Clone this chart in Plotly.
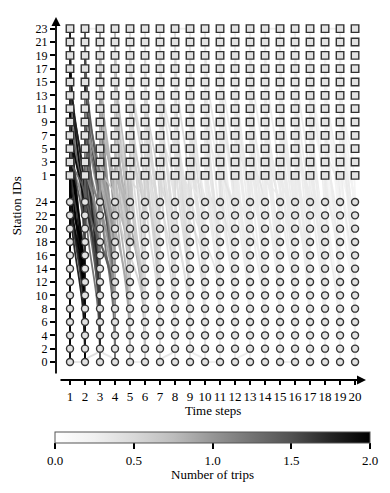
import plotly.graph_objects as go
from plotly.colors import make_colorscale, sample_colorscale

# time steps and station ids
steps = list(range(1, 21))
even_stations = [0, 2, 4, 6, 8, 10, 12, 14, 16, 18, 20, 22, 24]
odd_stations = [1, 3, 5, 7, 9, 11, 13, 15, 17, 19, 21, 23]

# trips: start step, origin station, destination station, step lag, number of trips
trip_step = [
    1, 1, 1, 1, 1, 1, 1, 1, 1, 1, 1, 1, 1, 1, 1, 1, 1, 1, 1, 1, 1, 1, 1, 1,
    2, 2, 2, 2, 2, 2, 2, 2, 2, 2, 2, 2, 2, 2, 2, 2, 2, 2, 2, 2,
    3, 3, 3, 3, 3, 3, 3, 3, 3, 3, 3, 3, 3, 3, 3, 3,
    4, 4, 4, 4, 4, 4, 4, 4, 4, 4, 4, 4,
    5, 5, 5, 5, 5, 5, 5, 5, 6, 6, 6, 6, 6, 6, 6, 6,
    7, 7, 7, 7, 7, 7, 7, 7, 8, 8, 8, 8, 8, 8, 8, 8,
    9, 9, 9, 9, 9, 9, 9, 9, 10, 10, 10, 10, 10, 10, 10, 10,
    11, 11, 11, 11, 11, 11, 11, 11, 12, 12, 12, 12, 12, 12, 12, 12,
    13, 13, 13, 13, 13, 13, 13, 13, 14, 14, 14, 14, 14, 14, 14, 14,
    15, 15, 15, 15, 15, 15, 15, 15, 16, 16, 16, 16, 16, 16, 16, 16,
    17, 17, 17, 17, 17, 17, 17, 17, 18, 18, 18, 18, 18, 18, 18, 18,
    19, 19, 19, 19, 19, 19, 19, 19,
    1, 5, 10, 15, 2, 7, 3, 12, 9, 2, 8, 14, 18,
    1, 1, 1, 1, 1, 1, 1, 1, 1, 1, 1, 1,
    2, 2, 2, 2, 2, 2, 2, 2, 2, 2, 2, 2,
    3, 3, 3, 3, 3, 3, 3, 3, 3, 3,
    4, 4, 4, 4, 4, 4, 4, 4,
    5, 5, 5, 5, 5, 5, 6, 6, 6, 6, 6, 6, 7, 7, 7, 7, 7, 7,
    8, 8, 8, 8, 8, 8, 9, 9, 9, 9, 9, 9, 10, 10, 10, 10, 10, 10,
    11, 11, 11, 11, 11, 11, 12, 12, 12, 12, 12, 12, 13, 13, 13, 13, 13, 13,
    14, 14, 14, 14, 14, 14, 15, 15, 15, 15, 15, 15, 16, 16, 16, 16, 16, 16,
    17, 17, 17, 17, 17, 17, 18, 18, 18, 18, 18, 18, 19, 19, 19, 19, 19, 19,
]
trip_from = [
    23, 21, 21, 19, 19, 17, 17, 15, 15, 13, 13, 11, 11, 9, 9, 7, 7, 5, 5, 3, 3, 1, 1, 23,
    23, 21, 19, 19, 17, 15, 15, 13, 11, 11, 9, 7, 7, 5, 3, 3, 1, 1, 17, 13,
    23, 21, 19, 17, 15, 13, 13, 11, 9, 7, 5, 5, 3, 1, 19, 9,
    23, 21, 17, 15, 13, 11, 9, 7, 5, 3, 1, 19,
    23, 19, 15, 13, 9, 7, 3, 1, 21, 19, 17, 11, 9, 5, 3, 1,
    23, 21, 15, 13, 11, 7, 5, 1, 23, 19, 17, 13, 9, 7, 3, 1,
    21, 19, 15, 11, 9, 5, 3, 1, 23, 21, 17, 13, 11, 7, 5, 3,
    23, 19, 15, 13, 9, 7, 3, 1, 21, 17, 15, 11, 9, 5, 3, 1,
    23, 21, 19, 13, 11, 7, 5, 1, 23, 19, 17, 15, 9, 7, 3, 1,
    21, 17, 15, 13, 11, 5, 3, 1, 23, 19, 15, 11, 9, 7, 5, 3,
    23, 21, 17, 13, 9, 7, 3, 1, 21, 19, 15, 11, 9, 5, 3, 1,
    23, 19, 17, 13, 11, 7, 5, 1,
    0, 0, 0, 0, 0, 0, 2, 0, 2, 23, 23, 23, 23,
    23, 21, 19, 17, 15, 13, 11, 9, 7, 5, 3, 1,
    23, 21, 19, 17, 15, 13, 11, 9, 7, 5, 3, 1,
    23, 21, 17, 15, 13, 11, 9, 7, 3, 1,
    23, 19, 15, 13, 9, 7, 3, 1,
    21, 17, 11, 5, 23, 13, 23, 15, 13, 7, 21, 9, 19, 17, 9, 3, 23, 11,
    21, 15, 11, 5, 23, 9, 23, 17, 13, 7, 19, 1, 19, 15, 9, 1, 23, 11,
    21, 17, 11, 5, 23, 13, 23, 19, 13, 7, 21, 11, 17, 15, 9, 3, 23, 19,
    21, 13, 11, 5, 23, 17, 23, 19, 9, 7, 21, 15, 21, 17, 13, 1, 23, 9,
    19, 15, 11, 5, 23, 13, 23, 17, 13, 7, 21, 1, 21, 15, 9, 3, 23, 17,
]
trip_to = [
    24, 20, 6, 16, 2, 12, 0, 22, 8, 18, 4, 14, 0, 10, 2, 6, 20, 0, 12, 4, 16, 8, 0, 10,
    18, 2, 10, 0, 24, 6, 14, 20, 4, 8, 0, 22, 12, 2, 16, 6, 10, 0, 4, 12,
    14, 6, 2, 20, 10, 0, 16, 24, 4, 8, 12, 18, 0, 22, 8, 14,
    10, 4, 16, 0, 22, 6, 12, 2, 20, 8, 14, 18,
    2, 14, 8, 20, 0, 16, 6, 24, 12, 0, 22, 4, 18, 10, 2, 6,
    6, 16, 2, 10, 24, 0, 14, 20, 20, 8, 0, 14, 4, 22, 12, 2,
    0, 10, 18, 6, 16, 2, 24, 8, 4, 14, 10, 0, 20, 12, 6, 18,
    16, 2, 22, 8, 0, 10, 4, 12, 6, 20, 0, 14, 24, 2, 10, 18,
    12, 0, 8, 4, 16, 22, 18, 2, 0, 14, 6, 10, 20, 2, 8, 24,
    10, 2, 18, 12, 0, 16, 4, 22, 4, 12, 0, 20, 8, 14, 24, 6,
    18, 6, 10, 2, 16, 0, 12, 20, 0, 22, 4, 14, 8, 10, 2, 16,
    8, 2, 12, 20, 0, 6, 18, 4,
    0, 0, 0, 0, 2, 2, 0, 2, 0, 23, 23, 23, 23,
    14, 0, 22, 4, 18, 2, 20, 16, 0, 24, 2, 12,
    0, 16, 6, 8, 2, 24, 12, 20, 4, 18, 22, 8,
    4, 18, 0, 20, 8, 2, 10, 14, 24, 6,
    18, 2, 12, 8, 24, 16, 0, 4,
    22, 10, 18, 0, 12, 4, 8, 16, 0, 20, 2, 14, 12, 4, 22, 8, 18, 2,
    6, 16, 10, 24, 0, 18, 12, 4, 20, 14, 0, 22, 22, 8, 2, 16, 24, 6,
    6, 18, 14, 20, 24, 2, 16, 4, 22, 8, 12, 0, 20, 6, 0, 14, 24, 10,
    4, 18, 12, 16, 22, 0, 14, 6, 24, 8, 0, 20, 16, 2, 18, 10, 22, 0,
    4, 24, 8, 14, 22, 0, 12, 6, 20, 24, 18, 0, 16, 10, 22, 14, 0, 24,
]
trip_lag = [
    0, 1, 0, 1, 1, 0, 1, 1, 0, 1, 1, 0, 1, 1, 0, 1, 1, 0, 1, 1, 0, 1, 1, 1,
    1, 1, 0, 1, 1, 1, 0, 1, 1, 2, 1, 0, 1, 1, 1, 2, 1, 1, 2, 1,
    1, 1, 1, 0, 1, 1, 2, 1, 1, 1, 0, 1, 1, 1, 2, 1,
    1, 1, 1, 2, 1, 1, 0, 1, 1, 2, 1, 1,
    1, 1, 0, 1, 1, 2, 1, 1, 1, 1, 1, 1, 2, 1, 1, 0,
    1, 2, 1, 1, 1, 1, 1, 1, 1, 1, 1, 0, 1, 1, 2, 1,
    1, 1, 1, 1, 1, 1, 1, 2, 1, 1, 1, 1, 2, 1, 1, 1,
    1, 1, 1, 1, 1, 0, 1, 1, 1, 1, 1, 1, 1, 1, 2, 1,
    1, 1, 1, 1, 1, 1, 1, 1, 1, 1, 1, 2, 1, 1, 1, 1,
    1, 1, 1, 1, 1, 1, 1, 1, 1, 1, 1, 1, 1, 1, 1, 1,
    1, 1, 1, 1, 1, 1, 1, 1, 1, 1, 1, 1, 1, 1, 1, 1,
    1, 1, 1, 1, 1, 1, 1, 1,
    1, 1, 1, 1, 1, 1, 1, 1, 1, 1, 1, 1, 1,
    1, 0, 1, 1, 1, 0, 1, 1, 0, 1, 1, 1,
    1, 1, 2, 1, 1, 1, 1, 0, 1, 1, 1, 2,
    1, 1, 1, 1, 1, 2, 1, 1, 1, 1,
    1, 1, 1, 1, 1, 1, 1, 2,
    1, 1, 1, 1, 2, 1, 1, 1, 1, 1, 1, 1, 1, 1, 1, 1, 1, 2,
    1, 1, 1, 1, 1, 1, 1, 1, 1, 1, 1, 1, 1, 1, 1, 1, 1, 1,
    1, 1, 1, 1, 1, 1, 1, 1, 1, 1, 1, 1, 1, 1, 1, 1, 1, 1,
    1, 1, 1, 1, 1, 1, 1, 1, 1, 1, 1, 1, 1, 1, 1, 1, 1, 1,
    1, 1, 1, 1, 1, 1, 1, 1, 1, 1, 1, 1, 1, 1, 1, 1, 1, 1,
]
trip_n = [
    2.0, 2.0, 1.8, 2.0, 1.6, 2.0, 2.0, 1.4, 2.0, 1.8, 2.0, 1.6, 2.0, 2.0, 1.8, 2.0, 1.2, 2.0, 1.6, 2.0, 1.8, 2.0, 2.0, 1.0,
    1.6, 1.8, 1.2, 2.0, 1.4, 1.6, 1.0, 1.8, 1.4, 1.2, 1.8, 1.0, 1.6, 1.4, 1.2, 1.6, 1.8, 1.4, 1.0, 1.2,
    1.2, 1.0, 1.4, 0.8, 1.2, 1.0, 0.8, 1.0, 1.2, 0.8, 1.0, 0.9, 1.4, 0.8, 0.7, 1.0,
    0.9, 0.8, 0.7, 1.0, 0.6, 0.8, 0.7, 0.9, 0.6, 0.7, 0.8, 0.6,
    0.7, 0.6, 0.5, 0.6, 0.7, 0.5, 0.6, 0.5, 0.6, 0.5, 0.6, 0.5, 0.4, 0.6, 0.5, 0.5,
    0.5, 0.4, 0.6, 0.5, 0.4, 0.5, 0.4, 0.5, 0.5, 0.4, 0.5, 0.4, 0.5, 0.4, 0.4, 0.5,
    0.4, 0.5, 0.4, 0.4, 0.3, 0.5, 0.4, 0.4, 0.4, 0.3, 0.4, 0.4, 0.3, 0.4, 0.3, 0.4,
    0.4, 0.3, 0.4, 0.3, 0.4, 0.3, 0.3, 0.4, 0.3, 0.4, 0.3, 0.3, 0.4, 0.3, 0.3, 0.3,
    0.3, 0.4, 0.3, 0.3, 0.3, 0.4, 0.3, 0.3, 0.3, 0.3, 0.3, 0.3, 0.4, 0.3, 0.3, 0.3,
    0.3, 0.3, 0.3, 0.3, 0.3, 0.3, 0.3, 0.3, 0.3, 0.3, 0.3, 0.3, 0.3, 0.3, 0.3, 0.3,
    0.3, 0.2, 0.3, 0.3, 0.2, 0.3, 0.3, 0.2, 0.2, 0.3, 0.2, 0.3, 0.2, 0.3, 0.2, 0.3,
    0.2, 0.2, 0.3, 0.2, 0.2, 0.3, 0.2, 0.2,
    0.4, 0.3, 0.3, 0.3, 0.5, 0.4, 0.4, 0.3, 0.3, 0.3, 0.3, 0.3, 0.3,
    2.0, 1.6, 1.8, 2.0, 1.4, 1.8, 2.0, 1.6, 2.0, 1.4, 1.8, 2.0,
    1.4, 1.2, 1.6, 1.4, 1.8, 1.0, 1.2, 1.4, 1.6, 1.0, 1.2, 1.4,
    1.0, 0.8, 1.2, 0.8, 1.0, 0.9, 0.8, 1.0, 0.7, 1.0,
    0.8, 0.7, 0.8, 0.6, 0.7, 0.8, 0.9, 0.6,
    0.6, 0.5, 0.6, 0.7, 0.5, 0.5, 0.5, 0.5, 0.6, 0.5, 0.5, 0.4, 0.5, 0.4, 0.4, 0.5, 0.4, 0.4,
    0.4, 0.4, 0.4, 0.4, 0.5, 0.4, 0.4, 0.4, 0.3, 0.4, 0.4, 0.3, 0.3, 0.4, 0.3, 0.3, 0.4, 0.3,
    0.3, 0.3, 0.3, 0.4, 0.3, 0.3, 0.3, 0.3, 0.3, 0.3, 0.3, 0.3, 0.3, 0.3, 0.3, 0.3, 0.3, 0.3,
    0.3, 0.3, 0.3, 0.3, 0.3, 0.3, 0.3, 0.3, 0.3, 0.3, 0.3, 0.3, 0.3, 0.3, 0.3, 0.3, 0.3, 0.3,
    0.3, 0.2, 0.3, 0.3, 0.2, 0.3, 0.2, 0.3, 0.2, 0.3, 0.2, 0.3, 0.2, 0.3, 0.2, 0.2, 0.3, 0.2,
]

colorbar_ticks = [0.0, 0.5, 1.0, 1.5, 2.0]
greys = ["rgb(255,255,255)", "rgb(240,240,240)", "rgb(217,217,217)", "rgb(189,189,189)",
         "rgb(150,150,150)", "rgb(115,115,115)", "rgb(82,82,82)", "rgb(37,37,37)", "rgb(0,0,0)"]
cscale = make_colorscale(greys)
FONT = "Liberation Serif, Times New Roman, serif"


def station_pos(s):
    # even stations on the lower block, odd ones on the upper block
    return s / 2 if s % 2 == 0 else 14 + (s - 1) / 2


fig = go.Figure()

shapes = []
for t, a, b, lag, n in zip(trip_step, trip_from, trip_to, trip_lag, trip_n):
    x0, y0 = t, station_pos(a)
    x1, y1 = t + lag, station_pos(b)
    c = 0.5 * (y0 - y1)
    col = sample_colorscale(cscale, [n / 2.0])[0]
    shapes.append(dict(
        type="path", xref="x", yref="y", layer="below",
        path=f"M {x0},{y0} C {x0},{y0 - c} {x1},{y1 + c} {x1},{y1}",
        line=dict(color=col, width=1.8), opacity=0.85,
    ))

# station nodes
fig.add_trace(go.Scatter(
    x=[t for t in steps for s in even_stations],
    y=[station_pos(s) for t in steps for s in even_stations],
    mode="markers",
    marker=dict(symbol="circle", size=7, color="#e2e2e2", line=dict(color="#333", width=1.4)),
    showlegend=False, hoverinfo="skip",
))
fig.add_trace(go.Scatter(
    x=[t for t in steps for s in odd_stations],
    y=[station_pos(s) for t in steps for s in odd_stations],
    mode="markers",
    marker=dict(symbol="square", size=7.5, color="#e2e2e2", line=dict(color="#333", width=1.4)),
    showlegend=False, hoverinfo="skip",
))

# colorbar only
fig.add_trace(go.Scatter(
    x=[None], y=[None], mode="markers", showlegend=False,
    marker=dict(
        color=[0, 2], cmin=0, cmax=2, colorscale=cscale, showscale=True,
        colorbar=dict(
            orientation="h", x=0.505, xanchor="center", y=-0.143, yanchor="top",
            len=1.016, lenmode="fraction", thickness=11, xpad=0, ypad=0,
            outlinewidth=1, outlinecolor="#555",
            ticks="outside", ticklen=6, tickwidth=1.5, tickcolor="black",
            tickvals=colorbar_ticks, ticktext=[f"{v:.1f}" for v in colorbar_ticks],
            tickfont=dict(family=FONT, size=13, color="black"),
        ),
    ),
))

tick_ids = even_stations + odd_stations
# the page body adds an 8px margin, so the figure is 8px smaller on each side
fig.update_layout(
    width=382, height=485,
    margin=dict(l=48, r=24, t=9, b=113),
    plot_bgcolor="white", paper_bgcolor="white",
    font=dict(family=FONT, size=13, color="black"),
    shapes=shapes,
    xaxis=dict(
        range=[0.0667, 20.73], tickvals=steps, tickangle=0, ticks="outside", ticklen=4, tickwidth=1.5,
        tickcolor="black", showgrid=False, zeroline=False, showline=False,
        tickfont=dict(size=13),
    ),
    yaxis=dict(
        range=[-1.35, 25.875], tickvals=[station_pos(s) for s in tick_ids], ticktext=[str(s) for s in tick_ids],
        ticks="outside", ticklen=5, tickwidth=1.5, tickcolor="black", tickfont=dict(size=12),
        showgrid=False, zeroline=False, showline=False,
    ),
    annotations=[
        dict(text="Station IDs", xref="paper", yref="paper", x=-0.129, y=0.479, textangle=-90,
             xanchor="center", yanchor="middle", showarrow=False, font=dict(size=13)),
        dict(text="Time steps", xref="paper", yref="paper", x=0.505, y=-0.084,
             xanchor="center", yanchor="middle", showarrow=False, font=dict(size=13)),
        dict(text="Number of trips", xref="paper", yref="paper", x=0.505, y=-0.259,
             xanchor="center", yanchor="middle", showarrow=False, font=dict(size=13)),
        # y axis spine with arrow
        dict(text="", xref="paper", yref="paper", x=0, y=1.0, ax=0, ay=358, showarrow=True,
             arrowhead=2, arrowsize=1, arrowwidth=1.8, arrowcolor="black", standoff=0),
        # x axis spine with arrow
        dict(text="", xref="paper", yref="paper", x=1.0, y=0, ax=-307, ay=0, showarrow=True,
             arrowhead=2, arrowsize=1, arrowwidth=1.8, arrowcolor="black", standoff=0),
    ],
)

fig.write_html("out.html")
